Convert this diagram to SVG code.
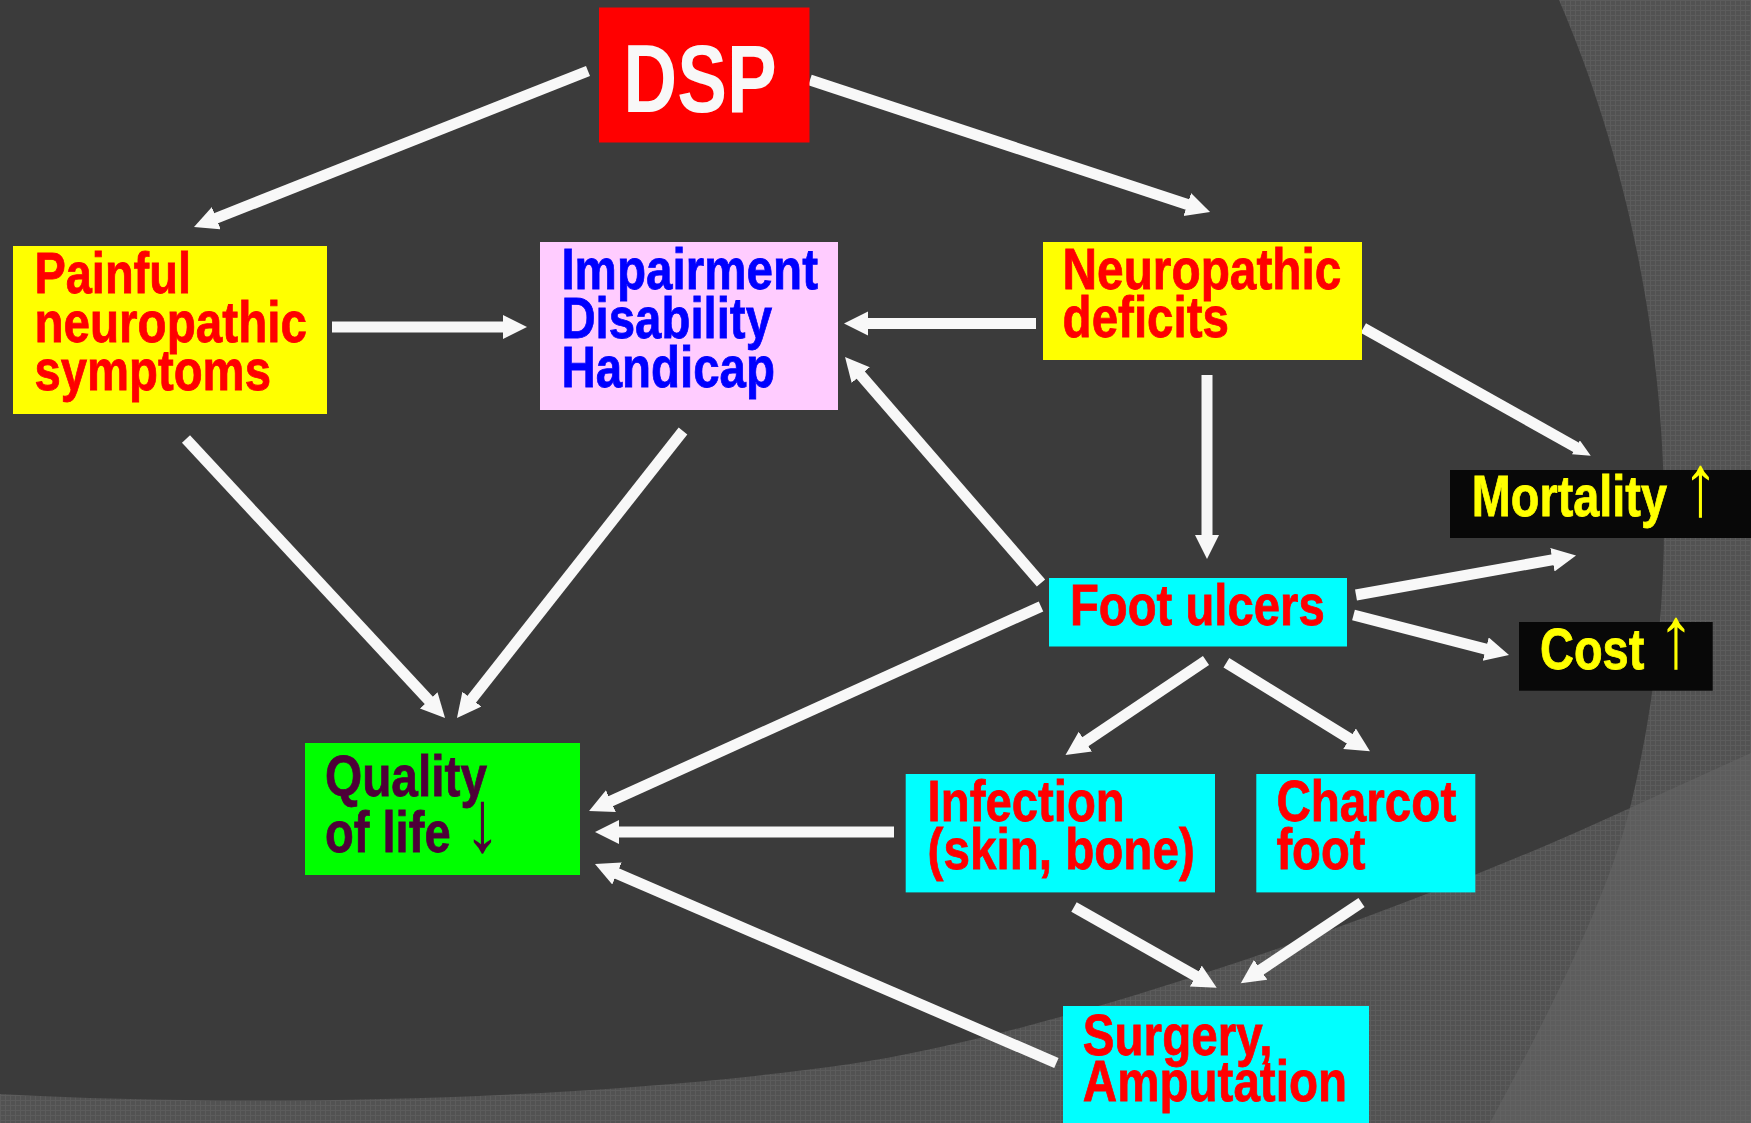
<svg xmlns="http://www.w3.org/2000/svg" width="1751" height="1123" viewBox="0 0 1751 1123">
<defs>
<pattern id="tex" width="5" height="5" patternUnits="userSpaceOnUse">
<rect width="5" height="5" fill="#525252"/>
<rect width="5" height="1" fill="#5c5c5c"/>
<rect width="1" height="5" fill="#5c5c5c"/>
</pattern>
<pattern id="tex2" width="5" height="5" patternUnits="userSpaceOnUse">
<rect width="5" height="5" fill="#5d5d5d"/>
<rect width="5" height="1" fill="#626262"/>
<rect width="1" height="5" fill="#626262"/>
</pattern>
<marker id="ah" markerUnits="userSpaceOnUse" markerWidth="26" markerHeight="26" refX="1" refY="12" orient="auto">
<path d="M0,0 L24,12 L0,24 Z" fill="#f8f8f8"/>
</marker>
<marker id="ah2" markerUnits="userSpaceOnUse" markerWidth="18" markerHeight="18" refX="1" refY="8" orient="auto">
<path d="M0,0 L17,8 L0,16 Z" fill="#f8f8f8"/>
</marker>
<style>
.t{font-family:"Liberation Sans Narrow","Liberation Sans",Arial,sans-serif;font-weight:bold;font-size:58px;stroke-width:0.8px}
.ar{font-family:"Liberation Sans","DejaVu Sans",sans-serif;font-weight:normal;font-size:88px}
.red{fill:#ff0000;stroke:#ff0000}
.blue{fill:#0000ff;stroke:#0000ff}
.yel{fill:#ffff00;stroke:#ffff00}
.pur{fill:#4d0038;stroke:#4d0038}
.ar.yel,.ar.pur{stroke:none}
#connectors line{stroke:#f8f8f8;stroke-width:11;marker-end:url(#ah)}
</style>
</defs>
<g id="background">
<rect width="1751" height="1123" fill="url(#tex)"/>
<path d="M1630,808 L1751,753 L1751,1123 L1490,1123 C1540,1030 1606,905 1630,808 Z" fill="url(#tex2)"/>
<path d="M0,0 L1559,0 C1645,200 1705,500 1630,808 C1400,915 1050,1035 850,1064 C600,1100 250,1108 0,1094 Z" fill="#3b3b3b"/>
</g>
<g id="connectors">
<line x1="588" y1="71" x2="215.4" y2="218.5" stroke-width="10"/>
<line x1="810" y1="80" x2="1188.2" y2="204.8" stroke-width="10"/>
<line x1="332" y1="327" x2="504" y2="327" stroke-width="12"/>
<line x1="1036" y1="323.5" x2="867" y2="323.5" stroke-width="12"/>
<line x1="1041" y1="583" x2="860.1" y2="374.4" stroke-width="10"/>
<line x1="186" y1="439" x2="429.4" y2="701.1" stroke-width="10"/>
<line x1="683" y1="431" x2="471.2" y2="699.9" stroke-width="10"/>
<line x1="1207" y1="375" x2="1207" y2="536" stroke-width="11"/>
<line x1="1363.3" y1="328" x2="1576.8" y2="447.8" stroke-width="9" style="marker-end:url(#ah2)"/>
<line x1="1356" y1="595" x2="1553.4" y2="559.6" stroke-width="10"/>
<line x1="1353.5" y1="615" x2="1486.7" y2="649.3" stroke-width="10"/>
<line x1="1206" y1="660.5" x2="1084.6" y2="742.2" stroke-width="10"/>
<line x1="1226.4" y1="662.8" x2="1350.4" y2="739.2" stroke-width="10"/>
<line x1="1041" y1="606.4" x2="610" y2="801.5" stroke-width="10"/>
<line x1="894" y1="832" x2="618" y2="832" stroke-width="12"/>
<line x1="1056.4" y1="1063" x2="616.1" y2="873.1" stroke-width="10"/>
<line x1="1074" y1="907" x2="1196.7" y2="976.5" stroke-width="10"/>
<line x1="1361.5" y1="902.5" x2="1259.9" y2="970.4" stroke-width="10"/>
</g>
<g id="node-dsp">
<rect x="599" y="7.5" width="210.5" height="135" fill="#ff0000"/>
<text class="t" x="623.3" y="111.7" style="font-size:97px" fill="#f8f8f8" textLength="153.4" lengthAdjust="spacingAndGlyphs">DSP</text>
</g>
<g id="node-painful">
<rect x="13" y="246" width="314" height="168" fill="#ffff00"/>
<text class="t red" x="34.4" y="293" textLength="156.6" lengthAdjust="spacingAndGlyphs">Painful</text>
<text class="t red" x="34.4" y="341.7" textLength="272.6" lengthAdjust="spacingAndGlyphs">neuropathic</text>
<text class="t red" x="34.4" y="389.5" textLength="236.6" lengthAdjust="spacingAndGlyphs">symptoms</text>
</g>
<g id="node-impairment">
<rect x="540" y="242" width="298" height="168" fill="#ffccff"/>
<text class="t blue" x="561.4" y="288.5" textLength="256.6" lengthAdjust="spacingAndGlyphs">Impairment</text>
<text class="t blue" x="561.4" y="338" textLength="210.6" lengthAdjust="spacingAndGlyphs">Disability</text>
<text class="t blue" x="561.4" y="386.7" textLength="213.6" lengthAdjust="spacingAndGlyphs">Handicap</text>
</g>
<g id="node-deficits">
<rect x="1043" y="242" width="319" height="118" fill="#ffff00"/>
<text class="t red" x="1062.6" y="288.5" textLength="278.8" lengthAdjust="spacingAndGlyphs">Neuropathic</text>
<text class="t red" x="1062.6" y="337.3" textLength="166.4" lengthAdjust="spacingAndGlyphs">deficits</text>
</g>
<g id="node-quality">
<rect x="305" y="743" width="275" height="132" fill="#00ff00"/>
<text class="t pur" x="325" y="796" textLength="162" lengthAdjust="spacingAndGlyphs">Quality</text>
<text class="t pur" x="325" y="851.8" textLength="125.6" lengthAdjust="spacingAndGlyphs">of life</text>
<text class="ar pur" x="464" y="851" textLength="37" lengthAdjust="spacingAndGlyphs">↓</text>
</g>
<g id="node-footulcers">
<rect x="1049" y="578" width="298" height="68.5" fill="#00ffff"/>
<text class="t red" x="1070" y="624.5" textLength="254.7" lengthAdjust="spacingAndGlyphs">Foot ulcers</text>
</g>
<g id="node-mortality">
<rect x="1450" y="470" width="301" height="68" fill="#080808"/>
<text class="t yel" x="1471.8" y="516" textLength="195.2" lengthAdjust="spacingAndGlyphs">Mortality</text>
<text class="ar yel" x="1682.5" y="514.6" textLength="36" lengthAdjust="spacingAndGlyphs">↑</text>
</g>
<g id="node-cost">
<rect x="1519" y="622" width="193.7" height="68.7" fill="#080808"/>
<text class="t yel" x="1540" y="668.5" textLength="104.3" lengthAdjust="spacingAndGlyphs">Cost</text>
<text class="ar yel" x="1658" y="667" textLength="36" lengthAdjust="spacingAndGlyphs">↑</text>
</g>
<g id="node-infection">
<rect x="905.7" y="774" width="309.3" height="118.4" fill="#00ffff"/>
<text class="t red" x="927.6" y="820.5" textLength="197.1" lengthAdjust="spacingAndGlyphs">Infection</text>
<text class="t red" x="927.6" y="869.3" textLength="267.2" lengthAdjust="spacingAndGlyphs">(skin, bone)</text>
</g>
<g id="node-charcot">
<rect x="1256.3" y="774" width="219" height="118.4" fill="#00ffff"/>
<text class="t red" x="1276.4" y="820.5" textLength="179.9" lengthAdjust="spacingAndGlyphs">Charcot</text>
<text class="t red" x="1276.4" y="869.3" textLength="89.1" lengthAdjust="spacingAndGlyphs">foot</text>
</g>
<g id="node-surgery">
<rect x="1063" y="1006" width="306" height="117" fill="#00ffff"/>
<text class="t red" x="1082.8" y="1054.7" textLength="189.6" lengthAdjust="spacingAndGlyphs">Surgery,</text>
<text class="t red" x="1082.8" y="1100.8" textLength="264.2" lengthAdjust="spacingAndGlyphs">Amputation</text>
</g>
</svg>
